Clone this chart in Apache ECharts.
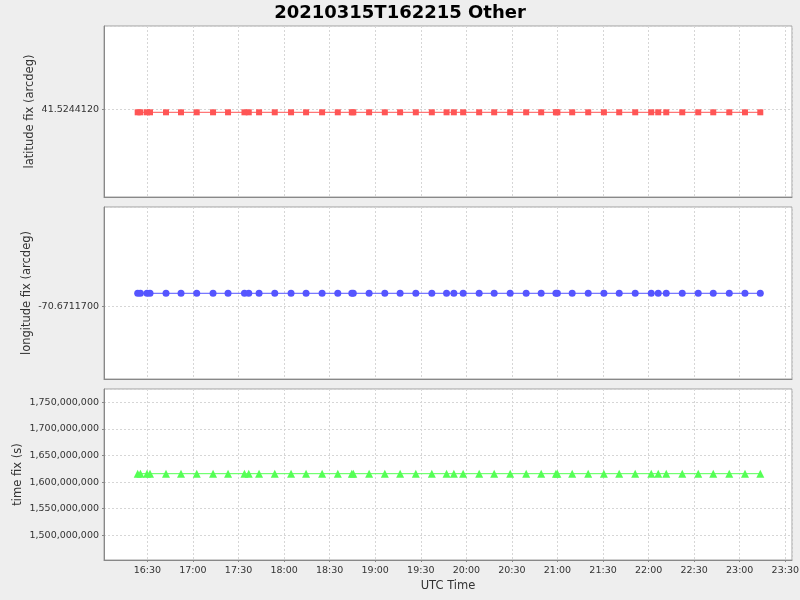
<!DOCTYPE html>
<html><head><meta charset="utf-8">
<script src="https://cdn.jsdelivr.net/npm/echarts@6/dist/echarts.min.js"></script>
<style>html,body{margin:0;padding:0;background:#eeeeee;} #c{width:800px;height:600px;}</style>
</head><body><div id="c"></div>
<script>
const chartTitle = '20210315T162215 Other';
const xAxisName = 'UTC Time';
const times = ['16:23:36','16:25:24','16:29:44','16:31:43','16:42:15','16:52:08','17:02:28','17:13:13','17:23:05','17:33:54',
  '17:36:44','17:43:31','17:53:51','18:04:35','18:14:28','18:25:01','18:35:21','18:44:35','18:45:34','18:55:58',
  '19:06:19','19:16:23','19:26:44','19:37:16','19:46:58','19:51:46','19:57:53','20:08:26','20:18:19','20:28:51',
  '20:39:23','20:49:16','20:58:58','20:59:56','21:09:41','21:20:14','21:30:34','21:40:39','21:51:11','22:01:44',
  '22:06:20','22:11:37','22:22:09','22:32:41','22:42:34','22:53:07','23:03:27','23:13:32'];
const latitude = [41.52441199648,41.52441199648,41.52441199648,41.52441199648,41.52441199648,41.52441199648,41.52441199648,41.52441199648,
  41.52441199648,41.52441199648,41.52441199648,41.52441199648,41.52441199648,41.52441199648,41.52441199648,41.52441199648,
  41.52441199648,41.52441199648,41.52441199648,41.52441199648,41.52441199648,41.52441199648,41.52441199648,41.52441199648,
  41.52441199648,41.52441199648,41.52441199648,41.52441199648,41.52441199648,41.52441199648,41.52441199648,41.52441199648,
  41.52441199648,41.52441199648,41.52441199648,41.52441199648,41.52441199648,41.52441199648,41.52441199648,41.52441199648,
  41.52441199648,41.52441199648,41.52441199648,41.52441199648,41.52441199648,41.52441199648,41.52441199648,41.52441199648];
const longitude = [-70.6711699844,-70.6711699844,-70.6711699844,-70.6711699844,-70.6711699844,-70.6711699844,-70.6711699844,-70.6711699844,
  -70.6711699844,-70.6711699844,-70.6711699844,-70.6711699844,-70.6711699844,-70.6711699844,-70.6711699844,-70.6711699844,
  -70.6711699844,-70.6711699844,-70.6711699844,-70.6711699844,-70.6711699844,-70.6711699844,-70.6711699844,-70.6711699844,
  -70.6711699844,-70.6711699844,-70.6711699844,-70.6711699844,-70.6711699844,-70.6711699844,-70.6711699844,-70.6711699844,
  -70.6711699844,-70.6711699844,-70.6711699844,-70.6711699844,-70.6711699844,-70.6711699844,-70.6711699844,-70.6711699844,
  -70.6711699844,-70.6711699844,-70.6711699844,-70.6711699844,-70.6711699844,-70.6711699844,-70.6711699844,-70.6711699844];
const timeFix = [1615830000,1615830000,1615830000,1615830000,1615830000,1615830000,1615830000,1615830000,
  1615830000,1615830000,1615830000,1615830000,1615830000,1615830000,1615830000,1615830000,
  1615830000,1615830000,1615830000,1615830000,1615830000,1615830000,1615830000,1615830000,
  1615830000,1615830000,1615830000,1615830000,1615830000,1615830000,1615830000,1615830000,
  1615830000,1615830000,1615830000,1615830000,1615830000,1615830000,1615830000,1615830000,
  1615830000,1615830000,1615830000,1615830000,1615830000,1615830000,1615830000,1615830000];
const xTickLabels = ['16:30','17:00','17:30','18:00','18:30','19:00','19:30','20:00','20:30','21:00','21:30','22:00','22:30','23:00','23:30'];
const latTickLabels = ['41.5244120'];
const lonTickLabels = ['-70.6711700'];
const timeFixTickLabels = ['1,500,000,000','1,550,000,000','1,600,000,000','1,650,000,000','1,700,000,000','1,750,000,000'];
const xRange = ['16:01:25','23:34:25'];
const latRange = [41.52441189742, 41.52441209742];
const lonRange = [-70.67117008406, -70.67116988406];
const timeFixRange = [1453600000, 1775000000];

function ts(t){ const p=t.split(':').map(Number); return Date.UTC(2021,2,15,p[0],p[1],p[2]); }
function hm(v){ const d=new Date(Math.round(v)); return String(d.getUTCHours()).padStart(2,'0')+':'+String(d.getUTCMinutes()).padStart(2,'0'); }

const FONT = 'DejaVu Sans';
const HALF_HOUR = 1800000;
const gridLine = {show:true, lineStyle:{color:'#d6d6d6', width:1, type:[2,2]}};
const grids = [
  {left:104, right:8, top:26, height:171},
  {left:104, right:8, top:207, height:172},
  {left:104, right:8, top:389, height:171}
].map(g=>Object.assign(g,{show:true, backgroundColor:'#ffffff', borderColor:'#a0a0a0', borderWidth:1, containLabel:false, outerBoundsMode:'none'}));

function xAxis(i){
  const bottom = i===2;
  return {
    type:'value', gridIndex:i, min:ts(xRange[0]), max:ts(xRange[1]), scale:true,
    splitNumber:15, minInterval:HALF_HOUR, maxInterval:HALF_HOUR,
    splitLine:gridLine,
    axisLine:{show:true, lineStyle:{color:'#888888'}},
    axisTick:{show:bottom, length:2, lineStyle:{color:'#888888'}},
    axisLabel:{show:bottom, margin:6, color:'#333333', fontFamily:FONT, fontSize:9.5, showMinLabel:false, showMaxLabel:false,
      formatter:v=>{const s=hm(v); return xTickLabels.includes(s) && (Math.round(v)%HALF_HOUR===0)?s:'';}},
    name: bottom?xAxisName:'', nameLocation:'middle', nameGap:20, nameMoveOverlap:false,
    nameTextStyle:{fontFamily:FONT, fontSize:11.5, color:'#333333'}
  };
}
function yAxis(i, range, iv, name, gap, fmt, labels){
  return {
    type:'value', gridIndex:i, min:range[0], max:range[1], scale:true,
    splitNumber:1, minInterval:iv, maxInterval:iv,
    splitLine:gridLine,
    axisLine:{show:true, lineStyle:{color:'#888888'}},
    axisTick:{show:true, length:2, lineStyle:{color:'#888888'}},
    axisLabel:{margin:5, color:'#333333', fontFamily:FONT, fontSize:9.5, showMinLabel:false, showMaxLabel:false,
      formatter:v=>{const s=fmt(v); return labels.includes(s)?s:'';}},
    name:name, nameLocation:'middle', nameRotate:90, nameGap:gap, nameMoveOverlap:false,
    nameTextStyle:{fontFamily:FONT, fontSize:11.5, color:'#333333'}
  };
}
const fmt7 = v=>v.toFixed(7);
const fmtInt = v=>Math.round(v).toLocaleString('en-US');

function series(i, vals, color, symbol, size){
  return {type:'line', xAxisIndex:i, yAxisIndex:i, data:times.map((t,k)=>[ts(t), vals[k]]),
    symbol:symbol, symbolSize:size, showSymbol:true, showAllSymbol:true,
    lineStyle:{color:color, width:1}, itemStyle:{color:color}, emphasis:{disabled:true}, silent:true, animation:false};
}

const chart = echarts.init(document.getElementById('c'), null, {renderer:'canvas'});
chart.setOption({
  animation:false,
  backgroundColor:'#eeeeee',
  title:{text:chartTitle, left:'center', top:-1, textStyle:{fontFamily:FONT, fontSize:18, fontWeight:'bold', color:'#000000'}},
  grid:grids,
  xAxis:[xAxis(0), xAxis(1), xAxis(2)],
  yAxis:[
    yAxis(0, latRange, 2e-7, 'latitude fix (arcdeg)', 68, fmt7, latTickLabels),
    yAxis(1, lonRange, 2e-7, 'longitude fix (arcdeg)', 71, fmt7, lonTickLabels),
    yAxis(2, timeFixRange, 50000000, 'time fix (s)', 80, fmtInt, timeFixTickLabels)
  ],
  series:[
    series(0, latitude, '#ff5555', 'rect', 6),
    series(1, longitude, '#5555ff', 'circle', 7),
    series(2, timeFix, '#55ff55', 'triangle', 8)
  ]
});
</script></body></html>
